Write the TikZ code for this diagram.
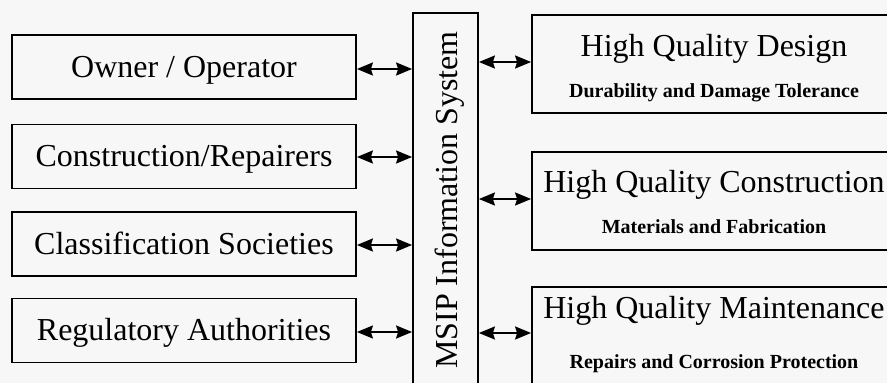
\documentclass[tikz,border=0pt]{standalone}
\usepackage{fontspec}
\setmainfont{Liberation Serif}
\usetikzlibrary{arrows.meta}
\begin{document}
\begin{tikzpicture}[x=1pt,y=-1pt,
  box/.style={draw, line width=1.8pt, inner sep=0pt},
  leftbox/.style={box, minimum width=344pt, minimum height=64pt, text height=20pt, text depth=0pt, font=\fontsize{32}{36}\selectfont},
  rightbox/.style={box, minimum width=364pt, minimum height=98pt},
  title/.style={anchor=base, font=\fontsize{32}{36}\selectfont, inner sep=0pt},
  sub/.style={anchor=base, font=\bfseries\fontsize{20}{24}\selectfont, inner sep=0pt},
  link/.style={{Stealth[length=16pt,width=13pt,inset=2pt]}-{Stealth[length=16pt,width=13pt,inset=2pt]}, line width=1.8pt}
]
\useasboundingbox (0,0) rectangle (887,383);
\fill[white!97!black] (0,0) rectangle (887,383);
\begin{scope}
\clip (0,0) rectangle (887,383);
% left boxes
\node[leftbox] (owner) at (184,67) {Owner / Operator};
\node[leftbox] (constr) at (184,156.5) {Construction/Repairers};
\node[leftbox] (class) at (184,244) {Classification Societies};
\node[leftbox] (reg) at (184,330.5) {Regulatory Authorities};
% central box
\node[box, minimum width=65pt, minimum height=382pt] (msip) at (445.5,204) {};
\node[font=\fontsize{32}{36}\selectfont, rotate=90, text height=20pt, text depth=0pt, inner sep=0pt] (msiptext) at (447.5,200) {MSIP Information System};
% right boxes
\node[rightbox] (design) at (714,64) {};
\node[rightbox] (quality) at (714,201) {};
\node[rightbox] (maint) at (714,336) {};
\node[title] (designT) at (714,56) {High Quality Design};
\node[sub] (designS) at (714,97) {Durability and Damage Tolerance};
\node[title] (qualityT) at (714,192) {High Quality Construction};
\node[sub] (qualityS) at (714,233) {Materials and Fabrication};
\node[title] (maintT) at (714,318) {High Quality Maintenance};
\node[sub] (maintS) at (714,368) {Repairs and Corrosion Protection};
% arrow levels
\coordinate (l1) at (0,69);
\coordinate (l2) at (0,157);
\coordinate (l3) at (0,245);
\coordinate (l4) at (0,332);
\coordinate (r1) at (0,62);
\coordinate (r2) at (0,199);
\coordinate (r3) at (0,333);
\draw[link] (owner.east |- l1) -- (msip.west |- l1);
\draw[link] (constr.east |- l2) -- (msip.west |- l2);
\draw[link] (class.east |- l3) -- (msip.west |- l3);
\draw[link] (reg.east |- l4) -- (msip.west |- l4);
\draw[link] (msip.east |- r1) -- (design.west |- r1);
\draw[link] (msip.east |- r2) -- (quality.west |- r2);
\draw[link] (msip.east |- r3) -- (maint.west |- r3);
\end{scope}
\end{tikzpicture}
\end{document}
